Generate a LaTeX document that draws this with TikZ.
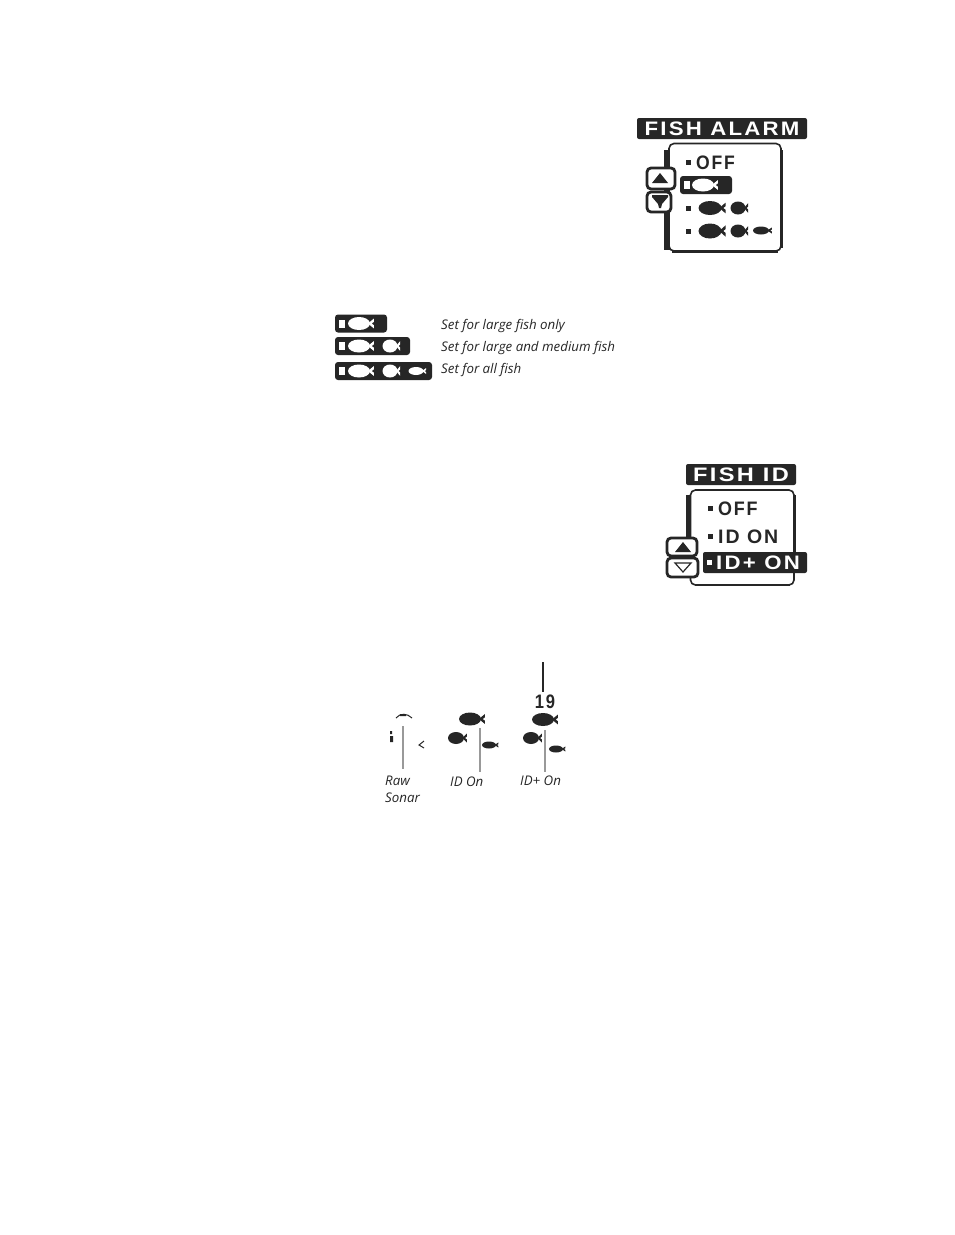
\documentclass[tikz,border=0pt]{standalone}
\usepackage{fontspec}
\setmainfont{Open Sans}
\newfontfamily\lcdfont[LetterSpace=10]{Liberation Sans}
\usetikzlibrary{calc}
\usetikzlibrary{shapes}
\colorlet{lcdblack}{black!85}
% body at #1,#2 with half sizes #3,#4, colour #5
\newcommand{\fishb}[5]{\fill[#5] ( #1 , #2 ) ellipse ( #3 and #4 ); \fill[#5] ($( #1 , #2 )+( #3 *0.8,0)$) -- ++( #3 *0.55, #4 *-0.75) -- ++(0, #4 *0.5) -- ++( #3 *-0.2, #4 *0.25) -- ++( #3 *0.2, #4 *0.25) -- ++(0, #4 *0.5) -- cycle;}
% bullet of a menu row
\newcommand{\bull}[2]{\fill[lcdblack] ( #1 -2.5, #2 -2.5) rectangle ( #1 +2.5, #2 +2.5);}
% black bar with a white block at its left end, from x #1 to x #3, centred on y #2
\newcommand{\fishbar}[3]{\fill[lcdblack,rounded corners=3] ( #1 , #2 -9) rectangle ( #3 , #2 +9); \fill[white] ( #1 +4, #2 -4) rectangle ( #1 +10, #2 +4);}
\newcommand{\upbtn}[2]{\fill[lcdblack] ( #1 -8, #2 +4) -- ( #1 , #2 -6) -- ( #1 +8, #2 +4) -- cycle;}
\tikzset{
  titletext/.style={text=white,font=\lcdfont\bfseries\fontsize{19.5}{18}\selectfont,transform shape,inner sep=0pt},
  rowtext/.style={text=lcdblack,font=\lcdfont\bfseries\fontsize{19.5}{18}\selectfont,transform shape,inner sep=0pt,anchor=west},
  note/.style={font=\itshape\fontsize{13.3}{14}\selectfont,text=black!85,inner sep=0pt,anchor=west},
  btnbox/.style={draw=lcdblack,line width=2.8pt,fill=white,rounded corners=4},
  panelbox/.style={draw=lcdblack,line width=1.6pt,fill=white,rounded corners=5},
  sonarline/.style={draw=black!40,line width=1.1pt},
}
\begin{document}
\begin{tikzpicture}[x=1pt,y=-1pt]
        \useasboundingbox (0,0) rectangle (954,1235);
        \fill[white] (0,0) rectangle (954,1235);
        % fish alarm menu
        \fill[lcdblack,rounded corners=2] (637,118) rectangle (807,139);
        \node[titletext,xscale=1.14] (alarmtitle) at (722,128.5) {FISH ALARM};
        \fill[lcdblack] (664,150) rectangle (671,250);
        \draw[panelbox] (669,143.5) rectangle (781,251);
        \draw[lcdblack,line width=2.2pt] (781.5,150) -- (781.5,248) (672,251.5) -- (778,251.5);
        % buttons
        \draw[btnbox] (647,168) rectangle (675,189);
        \draw[btnbox] (647,192) rectangle (671,212);
        \upbtn{660}{179}
        \fill[lcdblack] (652,195) -- (668,195) -- (668,197) -- (662,204) -- (661,208) -- (659,208) -- (658,204) -- (652,197) -- cycle;
        % row 1
        \bull{688}{162}
        \node[rowtext,xscale=0.9] (alarmoff) at (696,162.5) {OFF};
        % row 2
        \fishbar{680}{185}{732}
        \fishb{703}{185}{11}{6.5}{white}
        % row 3
        \bull{688}{208}
        \fishb{710}{208}{11.5}{7}{lcdblack}
        \fishb{738}{208}{7.5}{6.5}{lcdblack}
        % row 4
        \bull{688}{231}
        \fishb{710}{231}{11.5}{7.5}{lcdblack}
        \fishb{738}{231}{7.5}{6.5}{lcdblack}
        \fishb{761}{230.5}{8}{4}{lcdblack}
        % legend row 1
        \fishbar{335}{323.5}{387}
        \fishb{359}{323.5}{11}{6.5}{white}
        \node[note] (notelarge) at (441,326) {Set for large fish only};
        % legend row 2
        \fishbar{335}{346}{410}
        \fishb{359}{346}{11}{6.5}{white}
        \fishb{390}{346}{7.5}{6.5}{white}
        \node[note] (notemedium) at (441,348) {Set for large and medium fish};
        % legend row 3
        \fishbar{335}{371}{432}
        \fishb{359}{371}{11}{6.5}{white}
        \fishb{390}{371}{7.5}{6.5}{white}
        \fishb{416}{371}{7.5}{4}{white}
        \node[note] (noteall) at (441,370) {Set for all fish};
        % fish id menu
        \fill[lcdblack,rounded corners=2] (686,464) rectangle (796,485);
        \node[titletext,xscale=1.21] (idtitle) at (741,475) {FISH ID};
        \fill[lcdblack] (686,495) rectangle (692,540);
        \draw[panelbox] (690.5,490) rectangle (794,585);
        \draw[lcdblack,line width=2.2pt] (794.5,495) -- (794.5,552) (697,585) -- (790,585);
        % buttons
        \draw[btnbox] (667,538) rectangle (697,556);
        \draw[btnbox] (667,558) rectangle (698,577);
        \upbtn{683}{548}
        \draw[lcdblack,line width=1.2pt] (675,563) -- (691,563) -- (683,572) -- cycle;
        % row 1
        \bull{710}{508}
        \node[rowtext,xscale=0.92] (idoff) at (718,508.5) {OFF};
        % row 2
        \bull{710}{536}
        \node[rowtext,xscale=1] (idon) at (718,536.5) {ID ON};
        % row 3
        \fill[lcdblack,rounded corners=2] (703,552) rectangle (807,573);
        \fill[white] (707,560) rectangle (712,565);
        \node[rowtext,text=white,xscale=1.14] (idplus) at (716,563) {ID+ ON};
        % raw sonar column
        \draw[sonarline] (403,726) -- (403,769);
        \draw[lcdblack,line width=1pt] (396,718) .. controls (400,713) and (407,713) .. (412,718);
        \fill[lcdblack] (400,714) rectangle (406,716) (390,731) rectangle (392,734) (390,736) rectangle (393,742);
        \draw[lcdblack,line width=1pt] (424,741) -- (419,745) -- (424,748);
        \node[note] (rawlabel) at (385,781) {Raw};
        \node[note] (sonarlabel) at (385,798) {Sonar};
        % id on column
        \draw[sonarline] (480,728) -- (480,772);
        \fishb{470}{719}{11}{6.5}{lcdblack}
        \fishb{456}{738}{8}{6}{lcdblack}
        \fishb{489}{745}{7}{3.5}{lcdblack}
        \node[note] (idonlabel) at (450,782) {ID On};
        % id+ on column
        \draw[lcdblack,line width=1.8pt] (543,662) -- (543,692);
        \node[rowtext,xscale=0.85,anchor=center] (depth) at (545,701.5) {19};
        \draw[sonarline] (545,730) -- (545,772);
        \fishb{543}{719.5}{11}{6.5}{lcdblack}
        \fishb{531}{738}{8}{6}{lcdblack}
        \fishb{556}{749}{7}{3.5}{lcdblack}
        \node[note] (idpluslabel) at (520,781) {ID+ On};
    \end{tikzpicture}
\end{document}
